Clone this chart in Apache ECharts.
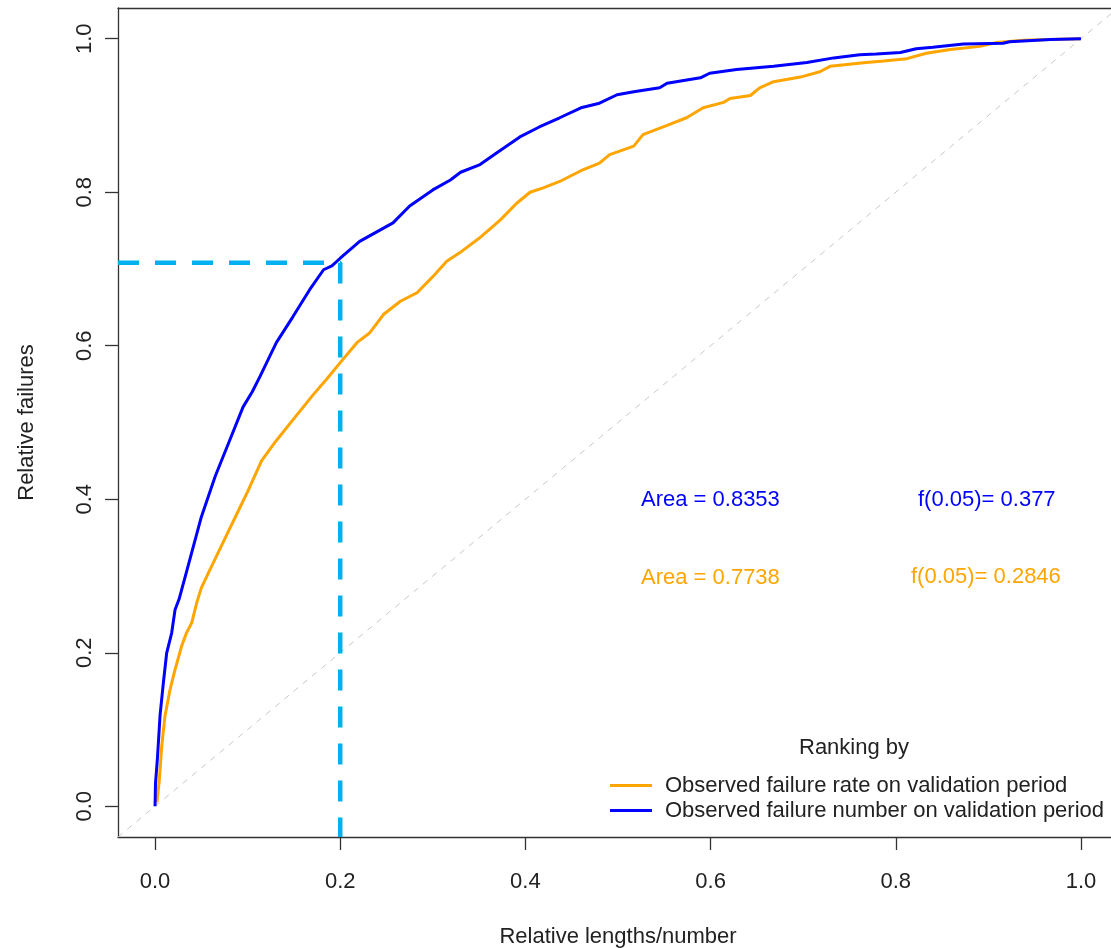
<!DOCTYPE html>
<html><head><meta charset="utf-8">
<script src="https://cdn.jsdelivr.net/npm/echarts@6/dist/echarts.min.js"></script>
<style>html,body{margin:0;padding:0;background:#fff;overflow:hidden}#c{width:1130px;height:948px}</style>
</head><body><div id="c"></div>
<script>
const tickValues = [0, 0.2, 0.4, 0.6, 0.8, 1.0];
const blueX = [0,0.0005,0.0025,0.0054,0.009,0.0126,0.018,0.0216,0.026,0.035,0.05,0.065,0.08,0.095,0.105,0.1134,0.131,0.149,0.167,0.182,0.191,0.2,0.221,0.239,0.257,0.275,0.3,0.319,0.33,0.351,0.37,0.394,0.415,0.437,0.46,0.48,0.499,0.517,0.545,0.553,0.589,0.599,0.628,0.668,0.704,0.733,0.761,0.779,0.805,0.822,0.84,0.873,0.916,0.923,0.967,1];
const blueY = [0,0.03,0.061,0.118,0.161,0.2,0.226,0.256,0.27,0.31,0.377,0.43,0.475,0.52,0.54,0.56,0.604,0.638,0.673,0.699,0.704,0.714,0.736,0.748,0.76,0.782,0.803,0.816,0.826,0.836,0.852,0.872,0.885,0.897,0.91,0.916,0.927,0.931,0.936,0.942,0.949,0.955,0.96,0.964,0.969,0.975,0.979,0.98,0.982,0.987,0.989,0.993,0.994,0.996,0.999,1];
const orangeX = [0.002,0.0047,0.0072,0.0108,0.0162,0.0216,0.0288,0.034,0.0396,0.045,0.05,0.06,0.07,0.08,0.09,0.1,0.115,0.13,0.15,0.17,0.185,0.2,0.218,0.232,0.247,0.265,0.283,0.3,0.315,0.329,0.35,0.373,0.39,0.405,0.42,0.437,0.46,0.48,0.491,0.517,0.527,0.553,0.574,0.592,0.614,0.621,0.643,0.653,0.668,0.697,0.718,0.729,0.768,0.787,0.812,0.833,0.859,0.891,0.909,0.938,0.967,1];
const orangeY = [0.005,0.035,0.0785,0.118,0.152,0.178,0.209,0.226,0.239,0.265,0.2846,0.31,0.335,0.36,0.385,0.41,0.45,0.475,0.505,0.535,0.556,0.578,0.604,0.617,0.641,0.658,0.669,0.69,0.71,0.721,0.74,0.764,0.785,0.8,0.806,0.814,0.828,0.838,0.849,0.86,0.875,0.887,0.897,0.91,0.917,0.922,0.926,0.936,0.944,0.95,0.957,0.964,0.969,0.971,0.974,0.981,0.986,0.99,0.995,0.998,0.999,1];
const diagX = [-0.04, 1.04];
const diagY = [-0.04, 1.04];
const refX = [-0.04, 0.2, 0.2];
const refY = [0.708, 0.708, -0.04];
const seriesNames = ['Observed failure rate on validation period', 'Observed failure number on validation period'];
const blueLabels = ['Area = 0.8353', 'f(0.05)= 0.377'];
const orangeLabels = ['Area = 0.7738', 'f(0.05)= 0.2846'];

const zip = (a, b) => a.map((v, i) => [v, b[i]]);
const FONT = 'Liberation Sans, Arial, sans-serif';
const BLUE = '#0000FF', ORANGE = '#FFA500';
const FS = 22;
const boxLine = {show: true, onZero: false, lineStyle: {color: '#333', width: 1.3}};

const chart = echarts.init(document.getElementById('c'), null, {renderer: 'canvas'});
chart.setOption({
  animation: false,
  backgroundColor: '#fff',
  grid: {left: 118, top: 8, width: 1000, height: 829, show: false, outerBoundsMode: 'none', containLabel: false},
  xAxis: [{
    type: 'value', min: -0.04, max: 1.04, position: 'bottom',
    axisLine: boxLine, splitLine: {show: false},
    axisTick: {show: true, customValues: tickValues, length: 13, lineStyle: {color: '#333', width: 1.3}},
    axisLabel: {customValues: tickValues, formatter: v => v.toFixed(1), margin: 34, fontSize: FS, color: '#222', fontFamily: FONT},
    name: 'Relative lengths/number', nameLocation: 'middle', nameGap: 89,
    nameTextStyle: {fontSize: FS, color: '#222', fontFamily: FONT}
  }, {
    type: 'value', min: -0.04, max: 1.04, position: 'top',
    axisLine: boxLine, splitLine: {show: false}, axisTick: {show: false}, axisLabel: {show: false}
  }],
  yAxis: {
    type: 'value', min: -0.04, max: 1.04,
    axisLine: boxLine, splitLine: {show: false},
    axisTick: {show: true, customValues: tickValues, length: 13, lineStyle: {color: '#333', width: 1.3}},
    axisLabel: {customValues: tickValues, formatter: v => v.toFixed(1), rotate: 90, margin: 22, fontSize: FS, color: '#222', fontFamily: FONT},
    name: 'Relative failures', nameLocation: 'middle', nameGap: 80, nameRotate: 90,
    nameTextStyle: {fontSize: FS, color: '#222', fontFamily: FONT}
  },
  legend: {
    orient: 'vertical', left: 605, top: 768, itemGap: 0, itemWidth: 42, itemHeight: 3,
    icon: 'rect', data: seriesNames,
    textStyle: {fontSize: FS, color: '#222', fontFamily: FONT, lineHeight: 25, padding: [0, 0, 0, 8]}
  },
  graphic: [
    {type: 'text', left: 799, top: 737, style: {text: 'Ranking by', fontSize: FS, fill: '#222', fontFamily: FONT}},
    {type: 'text', left: 641, top: 489, style: {text: blueLabels[0], fontSize: FS, fill: BLUE, fontFamily: FONT}},
    {type: 'text', left: 918, top: 489, style: {text: blueLabels[1], fontSize: FS, fill: BLUE, fontFamily: FONT}},
    {type: 'text', left: 641, top: 567, style: {text: orangeLabels[0], fontSize: FS, fill: ORANGE, fontFamily: FONT}},
    {type: 'text', left: 911, top: 566, style: {text: orangeLabels[1], fontSize: FS, fill: ORANGE, fontFamily: FONT}}
  ],
  series: [
    {type: 'line', name: 'diag', data: zip(diagX, diagY), symbol: 'none', silent: true,
     lineStyle: {color: '#C8C8C8', width: 1, type: [6, 6]}},
    {type: 'line', name: 'ref', data: zip(refX, refY), symbol: 'none', silent: true,
     lineStyle: {color: '#00B0F0', width: 4.5, type: [21, 16]}},
    {type: 'line', name: seriesNames[0], data: zip(orangeX, orangeY), symbol: 'none',
     lineStyle: {color: ORANGE, width: 3}, itemStyle: {color: ORANGE}},
    {type: 'line', name: seriesNames[1], data: zip(blueX, blueY), symbol: 'none',
     lineStyle: {color: BLUE, width: 3}, itemStyle: {color: BLUE}}
  ]
});
</script></body></html>
